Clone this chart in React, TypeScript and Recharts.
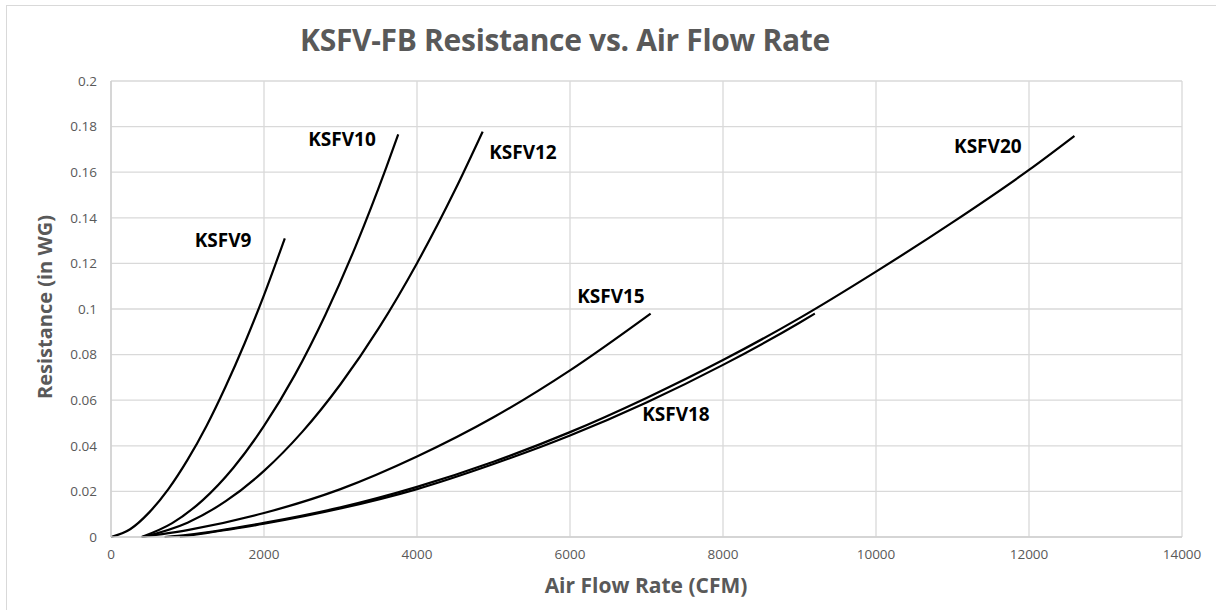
import React from "react";
import {
  LineChart,
  Line,
  XAxis,
  YAxis,
  CartesianGrid,
  ReferenceDot,
} from "recharts";

// air flow (CFM) vs resistance (in WG)
const ksfv9 = [
  { x: 0, y: 0 },
  { x: 250, y: 0.0034 },
  { x: 500, y: 0.0108 },
  { x: 750, y: 0.021 },
  { x: 1000, y: 0.0338 },
  { x: 1250, y: 0.0488 },
  { x: 1500, y: 0.0661 },
  { x: 1750, y: 0.0852 },
  { x: 2000, y: 0.1061 },
  { x: 2272, y: 0.131 },
];

const ksfv10 = [
  { x: 400, y: 0 },
  { x: 800, y: 0.0061 },
  { x: 1200, y: 0.0162 },
  { x: 1600, y: 0.0304 },
  { x: 2000, y: 0.0487 },
  { x: 2400, y: 0.0709 },
  { x: 2800, y: 0.0973 },
  { x: 3200, y: 0.1277 },
  { x: 3600, y: 0.1622 },
  { x: 3755, y: 0.1766 },
];

const ksfv12 = [
  { x: 420, y: 0 },
  { x: 1000, y: 0.0063 },
  { x: 1500, y: 0.0157 },
  { x: 2000, y: 0.029 },
  { x: 2500, y: 0.0461 },
  { x: 3000, y: 0.067 },
  { x: 3500, y: 0.0916 },
  { x: 4000, y: 0.1201 },
  { x: 4500, y: 0.1524 },
  { x: 4858, y: 0.1778 },
];

const ksfv15 = [
  { x: 400, y: 0 },
  { x: 1000, y: 0.003 },
  { x: 2000, y: 0.0105 },
  { x: 3000, y: 0.021 },
  { x: 4000, y: 0.0353 },
  { x: 5000, y: 0.0525 },
  { x: 6000, y: 0.0731 },
  { x: 7054, y: 0.098 },
];

const ksfv18 = [
  { x: 900, y: 0 },
  { x: 1000, y: 0.0005 },
  { x: 2000, y: 0.0058 },
  { x: 3000, y: 0.0125 },
  { x: 4000, y: 0.021 },
  { x: 5000, y: 0.032 },
  { x: 6000, y: 0.0445 },
  { x: 7000, y: 0.059 },
  { x: 8000, y: 0.0755 },
  { x: 9000, y: 0.094 },
  { x: 9200, y: 0.098 },
];

const ksfv20 = [
  { x: 700, y: 0 },
  { x: 1000, y: 0.001 },
  { x: 2000, y: 0.0062 },
  { x: 3000, y: 0.013 },
  { x: 4000, y: 0.022 },
  { x: 5000, y: 0.033 },
  { x: 6000, y: 0.046 },
  { x: 7000, y: 0.061 },
  { x: 8000, y: 0.0776 },
  { x: 9000, y: 0.096 },
  { x: 10000, y: 0.1164 },
  { x: 11000, y: 0.138 },
  { x: 12000, y: 0.161 },
  { x: 12593, y: 0.1759 },
];

const series = [
  { name: "KSFV9", data: ksfv9 },
  { name: "KSFV10", data: ksfv10 },
  { name: "KSFV12", data: ksfv12 },
  { name: "KSFV15", data: ksfv15 },
  { name: "KSFV18", data: ksfv18 },
  { name: "KSFV20", data: ksfv20 },
];

// where each curve's name sits (data coords)
const seriesLabels = [
  { name: "KSFV9", x: 1464, y: 0.1303 },
  { name: "KSFV10", x: 3019, y: 0.1746 },
  { name: "KSFV12", x: 5385, y: 0.1689 },
  { name: "KSFV15", x: 6535, y: 0.1057 },
  { name: "KSFV18", x: 7385, y: 0.0539 },
  { name: "KSFV20", x: 11462, y: 0.1715 },
];

const xTicks = [0, 2000, 4000, 6000, 8000, 10000, 12000, 14000];
const yTicks = [0, 0.02, 0.04, 0.06, 0.08, 0.1, 0.12, 0.14, 0.16, 0.18, 0.2];

const FONT = "'Open Sans', sans-serif";
const GRAY = "#595959";

export default function App() {
  return (
    <div style={{ position: "relative", width: 1216, height: 610, overflow: "hidden", background: "#fff" }}>
      <style>{`body{margin:0;overflow:hidden}`}</style>
      <div
        style={{
          position: "absolute",
          left: 6,
          top: 5,
          width: 1300,
          height: 700,
          border: "1px solid #d9d9d9",
        }}
      />
      <div
        style={{
          position: "absolute",
          left: 0,
          width: 1130,
          top: 19,
          textAlign: "center",
          fontFamily: FONT,
          fontWeight: 700,
          fontSize: 30,
          lineHeight: "42px",
          color: GRAY,
          letterSpacing: -0.3,
        }}
      >
        KSFV-FB Resistance vs. Air Flow Rate
      </div>
      <div
        style={{
          position: "absolute",
          left: 446,
          width: 400,
          top: 570,
          textAlign: "center",
          fontFamily: FONT,
          fontWeight: 700,
          fontSize: 21,
          lineHeight: "30px",
          color: GRAY,
        }}
      >
        Air Flow Rate (CFM)
      </div>
      <div
        style={{
          position: "absolute",
          left: 45 - 150,
          width: 300,
          top: 307 - 15,
          textAlign: "center",
          fontFamily: FONT,
          fontWeight: 700,
          fontSize: 20,
          color: GRAY,
          transform: "rotate(-90deg)",
          lineHeight: "30px",
        }}
      >
        Resistance (in WG)
      </div>
      <div style={{ position: "absolute", left: 0, top: 0 }}>
        <LineChart
          width={1216}
          height={610}
          margin={{ top: 81, right: 34, bottom: 43, left: 30 }}
        >
          <CartesianGrid stroke="#d9d9d9" strokeWidth={1.3} />
          <XAxis
            type="number"
            dataKey="x"
            domain={[0, 14000]}
            ticks={xTicks}
            height={30}
            tickSize={0}
            tickMargin={12}
            axisLine={{ stroke: "#d0d0d0", strokeWidth: 1.5 }}
            tick={{ fill: GRAY, fontSize: 13.5, fontFamily: FONT }}
          />
          <YAxis
            type="number"
            dataKey="y"
            domain={[0, 0.2]}
            ticks={yTicks}
            width={81}
            tickSize={0}
            tickMargin={14}
            axisLine={{ stroke: "#d0d0d0", strokeWidth: 1.5 }}
            tick={{ fill: GRAY, fontSize: 13.5, fontFamily: FONT }}
          />
          {series.map((s) => (
            <Line
              key={s.name}
              data={s.data}
              dataKey="y"
              type="monotone"
              stroke="#000"
              strokeWidth={2.2}
              dot={false}
              isAnimationActive={false}
            />
          ))}
          {seriesLabels.map((l) => (
            <ReferenceDot
              key={l.name}
              x={l.x}
              y={l.y}
              r={0}
              stroke="none"
              fill="none"
              label={{
                value: l.name,
                position: "center",
                fill: "#000",
                fontSize: 19,
                fontWeight: 700,
                fontFamily: FONT,
              }}
            />
          ))}
        </LineChart>
      </div>
    </div>
  );
}
